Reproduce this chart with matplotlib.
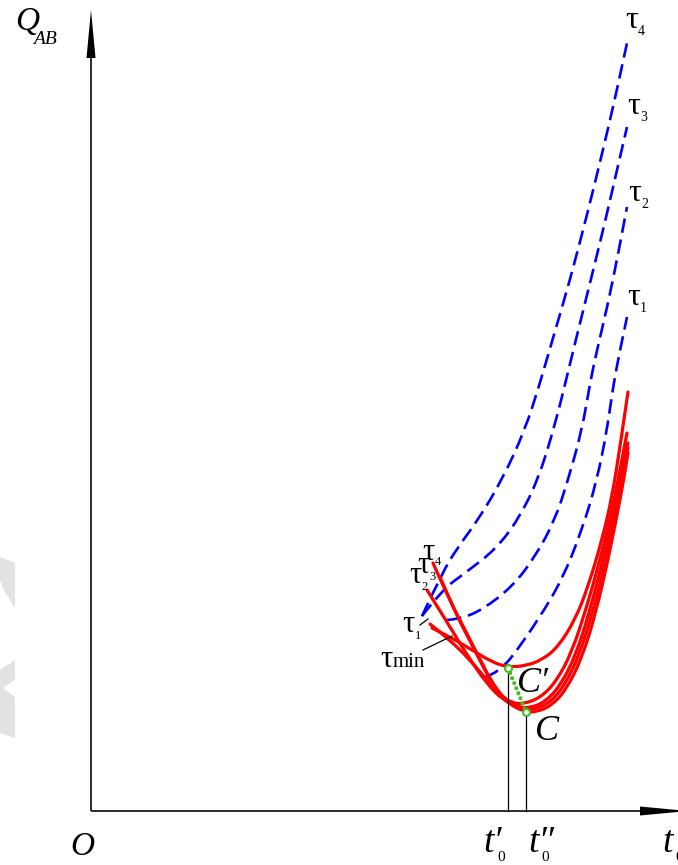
import matplotlib.pyplot as plt
from matplotlib.path import Path
from matplotlib.patches import PathPatch
from matplotlib.transforms import offset_copy

SERIF = ['Liberation Serif', 'DejaVu Serif']

# dashed curves tau1..tau4 (t0, Q_AB)
blue_t4_t = [331, 351, 367, 387, 411, 434, 449, 462, 479, 496, 512, 526, 536]
blue_t4_q = [195, 238, 264, 291, 331, 381, 428, 473, 531, 596, 661, 721, 768]
blue_t3_t = [331, 351, 374, 404, 427, 447, 464, 477, 489, 501, 514, 526, 536]
blue_t3_q = [195, 221, 238, 261, 291, 331, 386, 439, 488, 536, 589, 641, 684]
blue_t2_t = [356, 369, 391, 421, 444, 464, 477, 491, 499, 506, 516, 527, 536]
blue_t2_q = [191, 192, 201, 224, 254, 291, 331, 381, 428, 461, 503, 556, 604]
blue_t1_t = [394, 401, 414, 424, 447, 471, 491, 506, 516, 522, 529, 536]
blue_t1_q = [134, 136, 146, 158, 191, 231, 281, 331, 381, 424, 461, 494]

# solid curves
red_min_t = [341, 361, 381, 401, 416, 434, 451, 467, 484, 497, 511, 521, 529, 537]
red_min_q = [183, 173, 161, 149, 144, 145, 151, 164, 191, 224, 271, 314, 364, 419]
red_t1_t = [339, 359, 379, 396, 409, 421, 432, 449, 465, 481, 496, 509, 521, 529, 536]
red_t1_q = [187, 171, 151, 131, 116, 108, 107, 113, 129, 159, 205, 251, 301, 341, 378]
red_t2_t = [336, 356, 376, 396, 412, 427, 439, 454, 469, 485, 499, 512, 524, 531, 537]
red_t2_q = [221, 189, 156, 127, 111, 104, 103, 109, 125, 156, 201, 251, 306, 341, 368]
red_t3_t = [349, 364, 381, 399, 414, 429, 441, 457, 472, 488, 502, 515, 526, 533, 537]
red_t3_q = [234, 199, 166, 131, 111, 102, 101, 107, 123, 155, 200, 251, 306, 341, 363]
red_t4_t = [342, 357, 374, 391, 401, 416, 434, 445, 460, 475, 491, 505, 517, 528, 534, 537]
red_t4_q = [248, 214, 181, 148, 128, 108, 99, 99, 105, 121, 153, 199, 251, 306, 339, 358]

# optimum points C' and C
opt_t = [417, 435]
opt_q = [143, 99]

blue_curves = [(blue_t1_t, blue_t1_q), (blue_t2_t, blue_t2_q),
               (blue_t3_t, blue_t3_q), (blue_t4_t, blue_t4_q)]
red_curves = [(red_min_t, red_min_q), (red_t1_t, red_t1_q), (red_t2_t, red_t2_q),
              (red_t3_t, red_t3_q), (red_t4_t, red_t4_q)]

fig = plt.figure(figsize=(6.78, 8.65), dpi=100)
ax = fig.add_axes([0, 0, 1, 1])
ax.set_xlim(-91, 587)
ax.set_ylim(-54, 811)
ax.axis('off')


def smooth_path(t, q):
    # quadratic segments between midpoints, corners become control points
    pts = list(zip(t, q))
    verts = [pts[0]]
    codes = [Path.MOVETO]
    for i in range(1, len(pts) - 1):
        mid = ((pts[i][0] + pts[i + 1][0]) / 2, (pts[i][1] + pts[i + 1][1]) / 2)
        if i == len(pts) - 2:
            mid = pts[-1]
        verts += [pts[i], mid]
        codes += [Path.CURVE3, Path.CURVE3]
    return Path(verts, codes)


# faint grey marks at the left edge
ax.fill([-91, -76, -76, -81, -86, -91], [254, 248, 203, 211, 219, 231], color='#e2e2e2', lw=0, zorder=0)
ax.fill([-91, -76, -76, -88, -76, -76, -91], [141, 151, 131, 123, 114, 73, 78], color='#e2e2e2', lw=0, zorder=0)

# axes with arrows
ax.arrow(0, 0, 0, 801, width=1.6, head_width=9, head_length=48,
         length_includes_head=True, color='k', lw=0)
ax.arrow(0, 0, 597, 0, width=1.6, head_width=9, head_length=48,
         length_includes_head=True, color='k', lw=0)

for t, q in blue_curves:
    ax.add_patch(PathPatch(smooth_path(t, q), fill=False, edgecolor='#0000ff',
                           lw=1.9, ls=(0, (5.5, 2.6))))
for t, q in red_curves:
    ax.add_patch(PathPatch(smooth_path(t, q), fill=False, edgecolor='#ff0000',
                           lw=2.3, capstyle='round', joinstyle='round'))

# drop lines from C' and C to the t0 axis
for t, q in zip(opt_t, opt_q):
    ax.plot([t, t], [0, q], color='k', lw=0.9)

ax.plot(opt_t, opt_q, color='#44bb22', lw=3, ls=(0, (0.01, 1.3)), dash_capstyle='round')
ax.plot(opt_t, opt_q, 'o', ms=5, mfc='white', mec='#44bb22', mew=1.5)


def label(x, y, main, sub, size, subsize, dx, dy, style='normal', substyle='normal'):
    ax.text(x, y, main, fontsize=size, family=SERIF, style=style, va='baseline')
    if sub:
        tr = offset_copy(ax.transData, fig=fig, x=dx, y=dy, units='points')
        ax.text(x, y, sub, fontsize=subsize, family=SERIF, style=substyle,
                va='baseline', transform=tr)


# tau labels at the curve ends
label(534, 783, 'τ', '4', 23, 10, 9.5, -5)
label(536, 697, 'τ', '3', 23, 10, 9.5, -5)
label(537, 610, 'τ', '2', 23, 10, 9.5, -5)
label(536, 506, 'τ', '1', 23, 10, 9.5, -5)

label(331, 251, 'τ', '4', 22, 9, 9.0, -3.5)
label(326, 238, 'τ', '3', 22, 9, 9.0, -5)
label(318, 228, 'τ', '2', 22, 9, 9.0, -5)
label(311, 179, 'τ', '1', 22, 9, 9.0, -5)
label(289, 144, 'τ', 'min', 22, 15, 9.0, 0)
ax.plot([329, 337], [186, 192], color='k', lw=0.9)
ax.plot([332, 361], [161, 175], color='k', lw=0.9)

# axis names and points
label(-76, 781, 'Q', 'AB', 24, 14, 13, -10, style='italic', substyle='italic')
ax.text(-21, -44, 'O', fontsize=24, family=SERIF, style='italic', va='baseline')
label(392, -41, 't′', '0', 27, 11, 10.5, -6.5, style='italic')
label(437, -41, 't″', '0', 27, 11, 9.5, -6.5, style='italic')
label(571, -41, 't', '0', 27, 11, 9.5, -6.5, style='italic')
ax.text(426, 119, 'C′', fontsize=26, family=SERIF, style='italic', va='baseline')
ax.text(444, 71, 'C', fontsize=26, family=SERIF, style='italic', va='baseline')

fig.savefig('out.png', dpi=100)
